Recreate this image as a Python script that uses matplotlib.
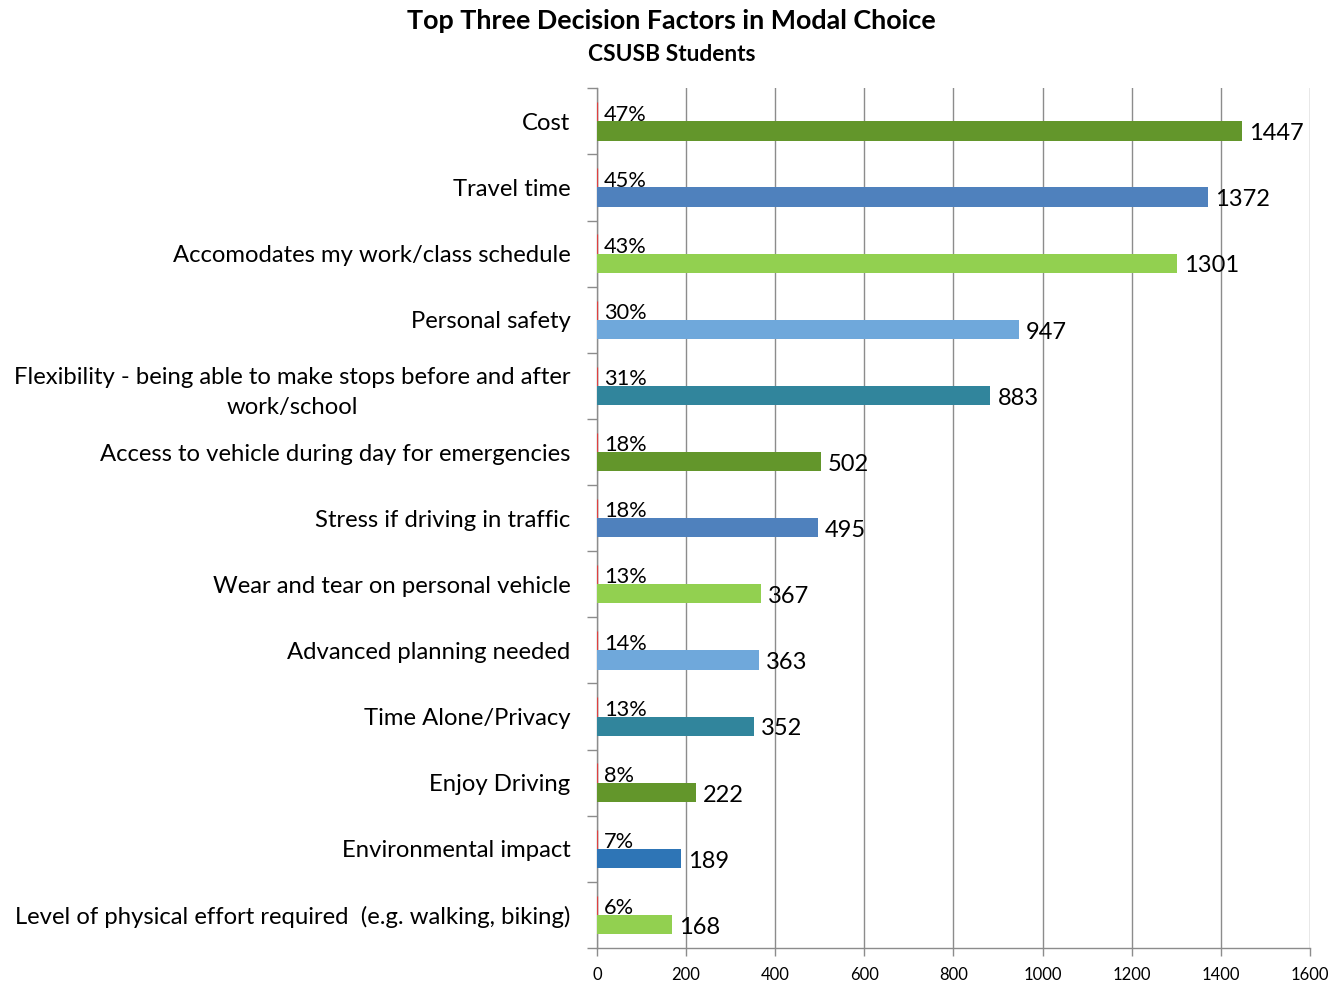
import matplotlib
matplotlib.use("Agg")
import matplotlib.pyplot as plt
import numpy as np

plt.rcParams['font.family'] = ['Lato', 'DejaVu Sans']

categories = [
    "Cost",
    "Travel time",
    "Accomodates my work/class schedule",
    "Personal safety",
    "Flexibility - being able to make stops before and after\nwork/school",
    "Access to vehicle during day for emergencies",
    "Stress if driving in traffic",
    "Wear and tear on personal vehicle",
    "Advanced planning needed",
    "Time Alone/Privacy",
    "Enjoy Driving",
    "Environmental impact",
    "Level of physical effort required  (e.g. walking, biking)",
]
counts = [1447, 1372, 1301, 947, 883, 502, 495, 367, 363, 352, 222, 189, 168]
percents = [47, 45, 43, 30, 31, 18, 18, 13, 14, 13, 8, 7, 6]
bar_colors = ["#63962B", "#4F81BD", "#92D050", "#6FA8DB", "#31859C",
              "#63962B", "#4F81BD", "#92D050", "#6FA8DB", "#31859C",
              "#63962B", "#2E75B6", "#92D050"]
x_ticks = [0, 200, 400, 600, 800, 1000, 1200, 1400, 1600]

fig = plt.figure(figsize=(13.43, 9.83), dpi=100)
ax = fig.add_axes([0.4445, 0.0356, 0.5309, 0.8746])

y = np.arange(len(categories))
h = 0.29
pct_fraction = [p / 100 for p in percents]

pct_bars = ax.barh(y - h / 2, pct_fraction, height=h, color="#E04040",
                   edgecolor="#E04040", linewidth=0.9, zorder=3)
cnt_bars = ax.barh(y + h / 2, counts, height=h, color=bar_colors, zorder=3)

pct_labels = ax.bar_label(pct_bars, labels=[f"{p}%" for p in percents],
                          padding=5, fontsize=15.7, color="black")
cnt_labels = ax.bar_label(cnt_bars, labels=[str(c) for c in counts],
                          padding=5, fontsize=17, color="black")
for ann in list(pct_labels) + list(cnt_labels):
    ann.xyann = (ann.xyann[0], -2)

ax.set_xlim(0, 1600)
ax.set_ylim(len(categories) - 0.5, -0.5)
ax.set_xticks(x_ticks)
ax.set_xticklabels([str(t) for t in x_ticks], fontsize=12)
ax.xaxis.grid(True, color="#8C8C8C", linewidth=1.0, zorder=0)
ax.set_axisbelow(True)

ax.set_yticks(y)
ax.set_yticklabels(categories, fontsize=17.2)
ax.set_yticks(np.arange(-0.5, len(categories), 1.0), minor=True)
ax.tick_params(axis="y", which="major", length=0, pad=19)
ax.tick_params(axis="y", which="minor", length=7, color="#8C8C8C", width=1)
ax.tick_params(axis="x", length=6, color="#8C8C8C", width=1, pad=8)
for lbl in ax.get_yticklabels():
    lbl.set_multialignment("center")
    if "\n" in lbl.get_text():
        lbl.set_linespacing(1.55)

for side in ("top", "right"):
    ax.spines[side].set_visible(False)
for side in ("left", "bottom"):
    ax.spines[side].set_color("#8C8C8C")
    ax.spines[side].set_linewidth(1.0)

fig.text(0.5, 0.979, "Top Three Decision Factors in Modal Choice",
         ha="center", va="center", fontsize=19.4, fontweight="bold")
fig.text(0.5, 0.945, "CSUSB Students", ha="center", va="center",
         fontsize=16.4, fontweight="bold")

fig.savefig("out.png", dpi=100)
